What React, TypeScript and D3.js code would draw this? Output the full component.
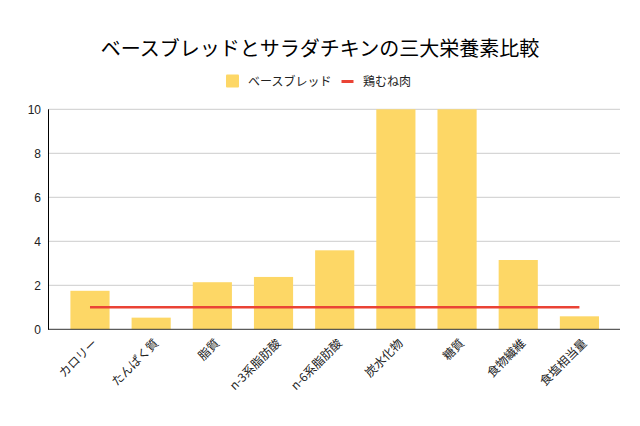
import React from 'react';
import * as d3 from 'd3';

const categories = ['カロリー', 'たんぱく質', '脂質', 'n-3系脂肪酸', 'n-6系脂肪酸', '炭水化物', '糖質', '食物繊維', '食塩相当量'];
const baseBread = [1.75, 0.53, 2.14, 2.38, 3.59, 10, 10, 3.15, 0.59];
const chicken = [1, 1, 1, 1, 1, 1, 1, 1, 1];
const yTicks = [0, 2, 4, 6, 8, 10];

const FONT = '"Liberation Sans", Arial, "Noto Sans CJK JP", sans-serif';

export default function App() {
  const width = 640;
  const height = 426;
  const left = 48.5;
  const right = 620;
  const top = 109.3;
  const bottom = 329.3;

  const x = d3.scaleBand<string>()
    .domain(categories)
    .range([59.4, 610])
    .paddingInner(0.36)
    .paddingOuter(0.18);
  const y = d3.scaleLinear().domain([0, 10]).range([bottom, top]);

  const center = (c: string) => (x(c) ?? 0) + x.bandwidth() / 2;

  const line = d3.line<number>()
    .x((_, i) => center(categories[i]))
    .y(d => y(d));

  return (
    <svg width={width} height={height} style={{ position: 'absolute', left: 0, top: 0, fontFamily: FONT }}>
      <rect width={width} height={height} fill="#fff" />
      <text x={320} y={56} textAnchor="middle" fontSize={20} fill="#000"
        fontFamily='"Noto Sans CJK JP", sans-serif'>
        ベースブレッドとサラダチキンの三大栄養素比較
      </text>

      {/* legend */}
      <rect x={226} y={74.5} width={13} height={13} fill="#fdd766" rx={1} />
      <text x={248} y={85.5} fontSize={12} fill="#222" fontFamily='"Noto Sans CJK JP", sans-serif'>ベースブレッド</text>
      <line x1={341.5} x2={353.5} y1={81.5} y2={81.5} stroke="#ea4335" strokeWidth={3} />
      <text x={363} y={85.5} fontSize={12} fill="#222" fontFamily='"Noto Sans CJK JP", sans-serif'>鶏むね肉</text>

      {/* grid */}
      {yTicks.map(t => (
        <g key={t}>
          {t > 0 && <line x1={left} x2={right} y1={y(t)} y2={y(t)} stroke="#ccc" strokeWidth={1} />}
          <text x={41} y={y(t)} dy="0.35em" textAnchor="end" fontSize={12} fill="#222">{t}</text>
        </g>
      ))}

      {/* bars */}
      {baseBread.map((v, i) => (
        <rect key={i} x={x(categories[i])} y={y(v)} width={x.bandwidth()} height={y(0) - y(v)}
          fill="#fdd766" />
      ))}

      {/* baseline and axis */}
      <line x1={left} x2={right} y1={bottom} y2={bottom} stroke="#333" strokeWidth={1} />
      <line x1={left} x2={left} y1={top} y2={bottom + 0.5} stroke="#000" strokeWidth={1} />

      {/* line series */}
      <path d={line(chicken) ?? ''} fill="none" stroke="#ea4335" strokeWidth={2.5} />

      {/* x labels */}
      {categories.map(c => (
        <text key={c} transform={`translate(${center(c) + 5},${341}) rotate(-45)`}
          textAnchor="end" dy="0.35em" fontSize={12} fill="#222"
          fontFamily='"Noto Sans CJK JP", sans-serif'>
          {c}
        </text>
      ))}
    </svg>
  );
}
